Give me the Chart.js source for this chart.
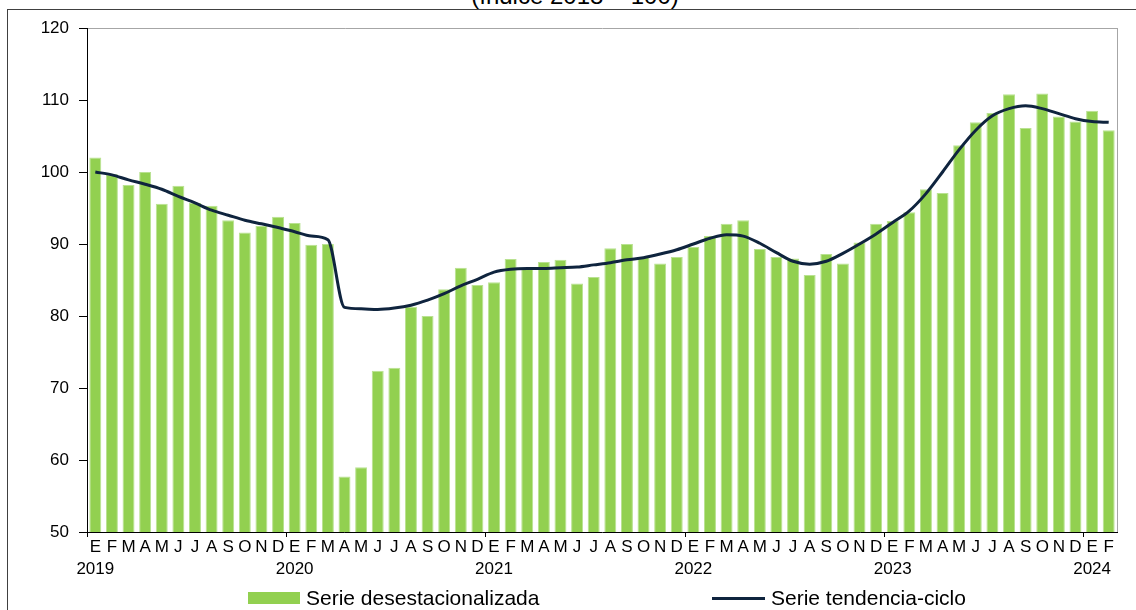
<!DOCTYPE html>
<html>
<head>
<meta charset="utf-8">
<script src="https://cdn.jsdelivr.net/npm/chart.js@4.4.1/dist/chart.umd.min.js"></script>
<style>
    body { margin: 0; background: #fff; font-family: "Liberation Sans", Arial, sans-serif; }
    #wrap { position: relative; width: 1136px; height: 610px; overflow: hidden; }
    #frame { position: absolute; left: 7px; top: 9px; width: 1150px; height: 640px; border: 1px solid #404040; }
    #title { position: absolute; left: 0; width: 1150px; top: -16px; text-align: center; font-size: 24px; line-height: 24px; color: #000; }
    canvas { position: absolute; left: 0; top: 0; }
    .leg { position: absolute; font-size: 21px; line-height: 24px; color: #000; white-space: nowrap; }
    .swatch { position: absolute; }
</style>
</head>
<body>
<div id="wrap">
    <div id="title">(índice 2018 = 100)</div>
    <div id="frame"></div>
    <canvas id="chart" width="1136" height="610"></canvas>
    <div class="swatch" id="sw1" style="left:248px; top:592px; width:52px; height:12px;"></div>
    <div class="leg" id="lg1" style="left:306px; top:586px;"></div>
    <div class="swatch" id="sw2" style="left:712px; top:597px; width:53px; height:3px;"></div>
    <div class="leg" id="lg2" style="left:771px; top:586px;"></div>
</div>
<script>
// ðŸ”¹ Data
const months = ["E", "F", "M", "A", "M", "J", "J", "A", "S", "O", "N", "D"];
const years = [2019, 2020, 2021, 2022, 2023, 2024];
const yTicks = [50, 60, 70, 80, 90, 100, 110, 120];

const desestacionalizada = [
    102.0, 99.7, 98.2, 100.0, 95.6, 98.1, 95.7, 95.3, 93.3, 91.6, 92.5, 93.8,
    92.9, 89.9, 90.0, 57.7, 59.0, 72.4, 72.8, 81.3, 80.0, 83.7, 86.7, 84.3,
    84.7, 87.9, 86.7, 87.5, 87.8, 84.5, 85.4, 89.4, 90.0, 88.2, 87.3, 88.2,
    89.6, 91.1, 92.8, 93.3, 89.3, 88.2, 88.0, 85.7, 88.6, 87.3, 90.2, 92.8,
    93.2, 94.4, 97.6, 97.1, 103.7, 106.9, 108.2, 110.8, 106.1, 110.9, 107.7, 107.0,
    108.5, 105.8
];

const tendenciaCiclo = [
    100.0, 99.6, 98.9, 98.3, 97.6, 96.6, 95.7, 94.7, 94.0, 93.3, 92.8, 92.3,
    91.7, 91.1, 90.6, 81.2, 81.0, 80.9, 81.1, 81.5, 82.2, 83.1, 84.2, 85.1,
    86.1, 86.5, 86.6, 86.6, 86.7, 86.8, 87.1, 87.4, 87.8, 88.1, 88.6, 89.2,
    90.0, 90.8, 91.3, 91.1, 90.1, 88.8, 87.6, 87.2, 87.6, 88.7, 90.0, 91.4,
    93.0, 94.6, 97.0, 100.0, 103.1, 105.8, 107.8, 108.8, 109.2, 108.8, 108.1, 107.4,
    107.0, 106.9
];

const seriesNames = ["Serie desestacionalizada", "Serie tendencia-ciclo"];
const barColor = "#92D050";
const lineColor = "#0F243E";

// ðŸ”¹ Build the month / year labels
const labels = desestacionalizada.map(function (v, i) {
    const m = months[i % 12];
    return i % 12 === 0 ? [m, String(years[Math.floor(i / 12)])] : m;
});

const font = { family: "'Liberation Sans', Arial, sans-serif", size: 17 };

new Chart(document.getElementById("chart"), {
    type: "bar",
    data: {
        labels: labels,
        datasets: [
            {
                type: "line",
                label: seriesNames[1],
                data: tendenciaCiclo,
                borderColor: lineColor,
                backgroundColor: lineColor,
                borderWidth: 3,
                pointRadius: 0,
                cubicInterpolationMode: "monotone",
                order: 0
            },
            {
                type: "bar",
                label: seriesNames[0],
                data: desestacionalizada,
                backgroundColor: barColor,
                borderColor: "#b9e291",
                borderWidth: 1,
                categoryPercentage: 1.0,
                barPercentage: 0.72,
                order: 1
            }
        ]
    },
    options: {
        responsive: false,
        animation: false,
        layout: { padding: { left: 0, right: 19, top: 28, bottom: 0 } },
        plugins: {
            legend: { display: false },
            tooltip: { enabled: false }
        },
        scales: {
            x: {
                afterFit: function (scale) { scale.height = 78; },
                border: { color: "#000", width: 1 },
                grid: {
                    offset: true,
                    tickLength: 5,
                    color: function (ctx) { return ctx.index === undefined ? "#a6a6a6" : "rgba(0,0,0,0)"; },
                    tickColor: function (ctx) { return ctx.index !== undefined && ctx.index % 12 === 0 ? "#000" : "rgba(0,0,0,0)"; }
                },
                ticks: {
                    autoSkip: false,
                    maxRotation: 0,
                    minRotation: 0,
                    padding: -1,
                    color: "#000",
                    font: { family: font.family, size: 17, lineHeight: 1.3 }
                }
            },
            y: {
                min: 50,
                max: 120,
                afterFit: function (scale) { scale.width = 87; },
                afterBuildTicks: function (scale) { scale.ticks = yTicks.map(function (v) { return { value: v }; }); },
                border: { color: "#000", width: 1 },
                grid: {
                    tickLength: 8,
                    color: function (ctx) { return ctx.tick && ctx.tick.value === 120 ? "#a6a6a6" : "rgba(0,0,0,0)"; },
                    tickColor: "#000"
                },
                ticks: {
                    padding: 10,
                    color: "#000",
                    font: font
                }
            }
        }
    }
});

// ðŸ”¹ Legend below the plot
document.getElementById("sw1").style.background = barColor;
document.getElementById("sw2").style.background = lineColor;
document.getElementById("lg1").textContent = seriesNames[0];
document.getElementById("lg2").textContent = seriesNames[1];
</script>
</body>
</html>
